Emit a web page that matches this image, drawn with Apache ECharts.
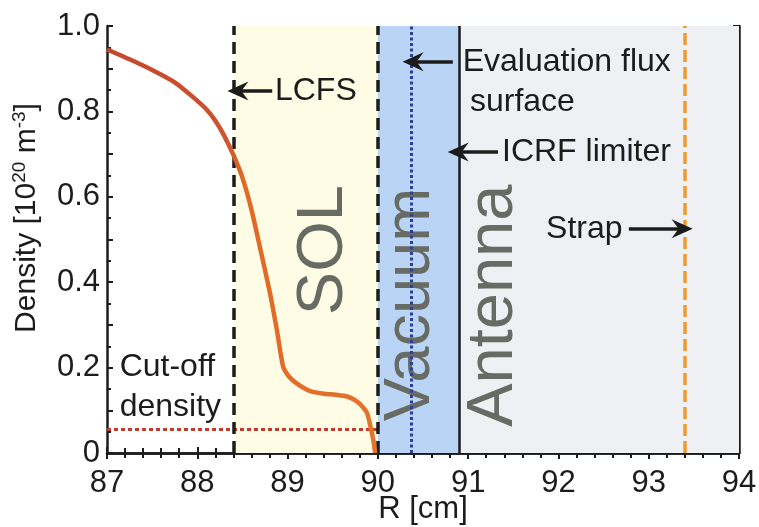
<!DOCTYPE html>
<html>
<head>
<meta charset="utf-8">
<script src="https://cdn.jsdelivr.net/npm/echarts@6/dist/echarts.min.js"></script>
<style>
  html, body { margin: 0; padding: 0; background: #ffffff; }
  #chart { width: 759px; height: 527px; }
</style>
</head>
<body>
<div id="chart"></div>
<script>
// Edge density profile, R [cm] vs density [10^20 m^-3]
const radius = [87.0, 87.25, 87.5, 87.75, 87.95, 88.1, 88.2, 88.3, 88.4, 88.5, 88.6, 88.7, 88.8, 88.88, 88.95, 89.02, 89.1, 89.2, 89.28, 89.4, 89.55, 89.65, 89.73, 89.8, 89.88, 89.92, 89.95, 89.97];
const density = [0.945, 0.922, 0.897, 0.868, 0.834, 0.805, 0.778, 0.742, 0.698, 0.645, 0.57, 0.476, 0.38, 0.29, 0.203, 0.178, 0.163, 0.15, 0.143, 0.139, 0.136, 0.133, 0.126, 0.115, 0.094, 0.06, 0.03, 0.0];

// Radial boundaries [cm]
const lcfsR = 88.4;
const vacuumStartR = 90.0;
const evalSurfaceR = 90.37;
const limiterR = 90.9;
const strapR = 93.4;
const cutoffDensity = 0.056;

// Region shading: [from, to, colour]
const regions = [
  [lcfsR, vacuumStartR, '#fffce5'],
  [vacuumStartR, limiterR, '#b9d4f5'],
  [limiterR, 94, '#eef0f4']
];

const xTicks = { min: 87, max: 94, interval: 1 };
const yTicks = { min: 0, max: 1, interval: 0.1 };

const FONT = 'Liberation Sans, Arial, Helvetica, sans-serif';
const INK = '#1c1c1c';

const chart = echarts.init(document.getElementById('chart'), null, { renderer: 'canvas' });

const arrowPath = 'path://M0,0 L9,18 L0,12 L-9,18 Z';

function yLabel(v) {
  const k = Math.round(v * 10);
  if (k % 2 !== 0) return '';
  if (k === 0) return '0';
  return (k / 10).toFixed(1);
}

const frameAxis = (extra) => Object.assign({
  type: 'value',
  axisLine: { show: true, lineStyle: { color: INK, width: 2.5 } },
  axisTick: { show: true, inside: true, length: 6, lineStyle: { color: INK, width: 2 } },
  minorTick: { show: true, length: 4, lineStyle: { color: INK, width: 2 } },
  splitLine: { show: false },
  minorSplitLine: { show: false }
}, extra);

// density curve: darker red inside the LCFS, orange in the SOL
const lcfsFrac = (lcfsR - radius[0]) / (radius[radius.length - 1] - radius[0]);
const curveColor = new echarts.graphic.LinearGradient(0, 0, 1, 0, [
  { offset: 0, color: '#c5472c' },
  { offset: Math.max(0, lcfsFrac - 0.03), color: '#cc5230' },
  { offset: Math.min(1, lcfsFrac + 0.04), color: '#e06a28' },
  { offset: 1, color: '#e4732a' }
]);

const option = {
  animation: false,
  backgroundColor: '#ffffff',
  grid: { left: 107, top: 26, right: 20, bottom: 74, containLabel: false, outerBoundsMode: 'none' },
  xAxis: [
    frameAxis({
      position: 'bottom', min: xTicks.min, max: xTicks.max, interval: xTicks.interval,
      minorTick: { show: true, splitNumber: 5, length: 5, lineStyle: { color: INK, width: 2 } },
      axisLabel: { color: INK, fontSize: 31, fontFamily: FONT, margin: 15 },
      name: 'R [cm]', nameLocation: 'middle', nameGap: 41, nameMoveOverlap: false,
      nameTextStyle: { color: INK, fontSize: 31, fontFamily: FONT }
    }),
    frameAxis({
      position: 'top', min: xTicks.min, max: xTicks.max, interval: xTicks.interval,
      minorTick: { show: true, splitNumber: 5, length: 5, lineStyle: { color: INK, width: 2 } },
      axisLabel: { show: false }
    })
  ],
  yAxis: [
    frameAxis({
      position: 'left', min: yTicks.min, max: yTicks.max, interval: yTicks.interval,
      minorTick: { show: true, splitNumber: 2, length: 4, lineStyle: { color: INK, width: 2 } },
      axisLabel: { color: INK, fontSize: 31, fontFamily: FONT, margin: 7, formatter: yLabel }
    }),
    frameAxis({
      position: 'right', min: yTicks.min, max: yTicks.max, interval: yTicks.interval,
      minorTick: { show: true, splitNumber: 2, length: 4, lineStyle: { color: INK, width: 2 } },
      axisLabel: { show: false }
    })
  ],
  series: [
    {
      // shaded regions and boundary lines
      type: 'line',
      data: [],
      xAxisIndex: 0, yAxisIndex: 0,
      markArea: {
        silent: true,
        data: regions.map(r => [
          { xAxis: r[0], itemStyle: { color: r[2] } },
          { xAxis: r[1] }
        ])
      },
      markLine: {
        silent: true,
        symbol: ['none', 'none'],
        label: { show: false },
        emphasis: { disabled: true },
        data: [
          [{ coord: [87, cutoffDensity] }, { coord: [vacuumStartR, cutoffDensity],
            lineStyle: { color: '#c23b2a', width: 3, type: [4, 3] } }],
          { xAxis: lcfsR, lineStyle: { color: INK, width: 3.5, type: [12, 7] } },
          { xAxis: vacuumStartR, lineStyle: { color: INK, width: 3.5, type: [12, 7] } },
          { xAxis: evalSurfaceR, lineStyle: { color: '#2b3f98', width: 3, type: [3, 2.5] } },
          { xAxis: limiterR, lineStyle: { color: INK, width: 2.5, type: 'solid' } },
          { xAxis: strapR, lineStyle: { color: '#ee9a2e', width: 3.5, type: [12, 5] } }
        ]
      }
    },
    {
      name: 'density',
      type: 'line',
      xAxisIndex: 0, yAxisIndex: 0,
      data: radius.map((r, i) => [r, density[i]]),
      showSymbol: false,
      smooth: 0.2,
      z: 5,
      lineStyle: { color: curveColor, width: 4.5 }
    },
    {
      // annotation arrows
      type: 'line',
      data: [],
      z: 6,
      markLine: {
        silent: true,
        symbol: ['none', arrowPath],
        symbolSize: [19, 21],
        label: { show: false },
        emphasis: { disabled: true },
        lineStyle: { color: INK, width: 3.5, type: 'solid' },
        data: [
          [{ coord: [88.83, 0.848] }, { coord: [88.45, 0.848] }],
          [{ coord: [90.83, 0.916] }, { coord: [90.39, 0.916] }],
          [{ coord: [91.33, 0.705] }, { coord: [90.89, 0.705] }],
          [{ coord: [92.78, 0.525] }, { coord: [93.37, 0.525] }]
        ]
      }
    }
  ]
};

chart.setOption(option);

const px = (x, y) => chart.convertToPixel({ gridIndex: 0 }, [x, y]);

function note(text, x, y, align) {
  const p = px(x, y);
  return {
    type: 'text', x: p[0], y: p[1], z: 20,
    style: { text: text, fill: INK, font: '32px ' + FONT, align: align || 'left', verticalAlign: 'middle' }
  };
}

function region(text, x, y) {
  const p = px(x, y);
  return {
    type: 'text', x: p[0], y: p[1], rotation: Math.PI / 2, z: 4,
    style: { text: text, fill: '#686b64', font: '65px ' + FONT, align: 'center', verticalAlign: 'middle' }
  };
}

const yName = {
  type: 'text', x: 27, y: 218, rotation: Math.PI / 2, z: 20,
  style: {
    text: 'Density [10{sup|20} m{sup|-3}]',
    fill: INK, font: '30px ' + FONT, align: 'center', verticalAlign: 'middle',
    rich: {
      sup: { fontSize: 19, fontFamily: FONT, fill: INK, verticalAlign: 'top', lineHeight: 34 }
    }
  }
};

chart.setOption({
  graphic: [
    region('SOL', 89.4, 0.475),
    region('Vacuum', 90.37, 0.348),
    region('Antenna', 91.29, 0.345),
    note('LCFS', 88.86, 0.848),
    note('Evaluation flux', 90.94, 0.916),
    note('surface', 91.02, 0.822),
    note('ICRF limiter', 91.375, 0.705),
    note('Strap', 92.71, 0.525, 'right'),
    note('Cut-off', 87.14, 0.201),
    note('density', 87.14, 0.108),
    yName
  ]
});
</script>
</body>
</html>
